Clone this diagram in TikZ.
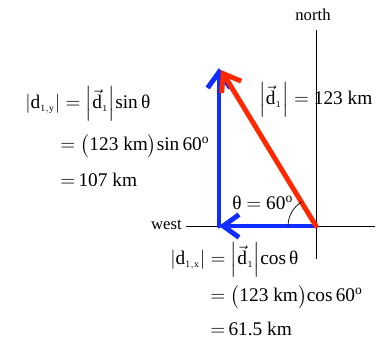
\documentclass[tikz,border=0pt]{standalone}
\usepackage{amsmath}
\usepackage{fontspec}
\setmainfont{Liberation Serif}
\usetikzlibrary{arrows.meta}

\begin{document}
\begin{tikzpicture}[x=0.02cm,y=-0.02cm,
    vec/.style={line width=2.8pt,line cap=round,-{Straight Barb[length=9pt,width=13pt]}},
    eqn/.style={font=\fontsize{11}{13}\selectfont,inner sep=0pt,anchor=west},
    axislbl/.style={font=\fontsize{9.5}{11}\selectfont,inner sep=0pt}]
    \useasboundingbox (0,0) rectangle (384,341);
    \definecolor{vblue}{RGB}{15,45,255}
    \definecolor{vred}{RGB}{255,40,0}

    \coordinate (o) at (316,226);
    \coordinate (n) at (316,30);
    \coordinate (s) at (316,259);
    \coordinate (w) at (186,226);
    \coordinate (e) at (375,226);
    \coordinate (x) at (219,226);
    \coordinate (y) at (219,68);
    \coordinate (r) at (221,70);

    % axes
    \draw (n)--(s);
    \draw (w)--(e);
    \node[axislbl,anchor=south] (north) at (313,21) {north};
    \node[axislbl,anchor=east] (west) at (182,225) {west};

    % vectors
    \draw[vec,vblue] (o)--(x);
    \draw[vec,vblue] (x)--(y);
    \draw[vec,vred] (o)--(r);

    % angle
    \draw (288,226) arc[start angle=180,end angle=238.4,radius=28];
    \node[eqn] (theta) at (232,203) {θ $=$ 60$^{\mathrm{o}}$};

    % magnitudes
    \node[eqn] (d1) at (259,100) {$\left|\vec{\mathrm{d}}_{\scriptscriptstyle 1}\right| =$ 123 km};

    \node[eqn] (dy1) at (25,104) {$\left|\mathrm{d}_{\scriptscriptstyle\mathrm{1,y}}\right| = \left|\vec{\mathrm{d}}_{\scriptscriptstyle 1}\right|$sin\,θ};
    \node[eqn] (dy2) at (60,146) {$=\bigl($123 km$\bigr)$sin\,60$^{\mathrm{o}}$};
    \node[eqn] (dy3) at (60,180) {$=$\,107 km};

    \node[eqn] (dx1) at (170,260) {$\left|\mathrm{d}_{\scriptscriptstyle\mathrm{1,x}}\right| = \left|\vec{\mathrm{d}}_{\scriptscriptstyle 1}\right|$cos\,θ};
    \node[eqn] (dx2) at (210,297) {$=\bigl($123 km$\bigr)$cos\,60$^{\mathrm{o}}$};
    \node[eqn] (dx3) at (210,329) {$=$\,61.5 km};
\end{tikzpicture}
\end{document}
